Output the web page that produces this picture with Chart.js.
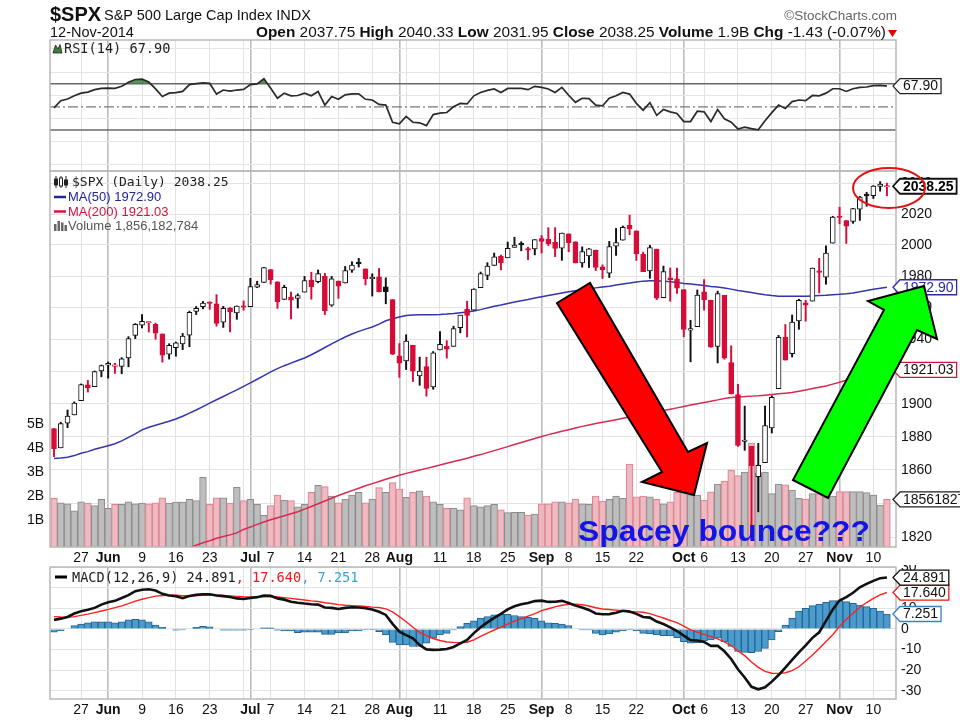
<!DOCTYPE html>
<html><head><meta charset="utf-8">
<script src="https://cdn.jsdelivr.net/npm/chart.js@4.4.1/dist/chart.umd.min.js"></script>
<style>
html,body{margin:0;padding:0;background:#fff;}
#wrap{position:relative;width:960px;height:720px;overflow:hidden;background:#fff;}
canvas{position:absolute;left:0;}
#ov{position:absolute;left:0;top:0;}
</style></head><body>
<div id="wrap">
<canvas id="cRsi" width="960" height="135" style="top:38px"></canvas>
<canvas id="cPx" width="960" height="397" style="top:169px"></canvas>
<canvas id="cMacd" width="960" height="155" style="top:565px"></canvas>
<svg id="ov" width="960" height="720" xmlns="http://www.w3.org/2000/svg">
 <g font-family="'Liberation Sans', Arial, sans-serif" fill="#111">
  <text x="50" y="21" font-size="20" font-weight="bold">$SPX</text>
  <text x="104" y="20" font-size="14.5">S&amp;P 500 Large Cap Index INDX</text>
  <text x="897" y="20" font-size="13.5" fill="#666" text-anchor="end">©StockCharts.com</text>
  <text x="50" y="37" font-size="14.5">12-Nov-2014</text>
  <text x="256" y="37" font-size="14.5" textLength="630" lengthAdjust="spacingAndGlyphs"><tspan font-weight="bold">Open</tspan> 2037.75 <tspan font-weight="bold">High</tspan> 2040.33 <tspan font-weight="bold">Low</tspan> 2031.95 <tspan font-weight="bold">Close</tspan> 2038.25 <tspan font-weight="bold">Volume</tspan> 1.9B <tspan font-weight="bold">Chg</tspan> -1.43 (-0.07%)</text>
  <path d="M888,30 h9 l-4.5,7 z" fill="#d00"/>
 </g>
 <!-- RSI legend -->
 <path d="M53,53 L55.5,45 L58,49 L60,44.5 L62,53 Z" fill="#3d7d3d" stroke="#222" stroke-width="0.8"/>
 <text x="64" y="53" font-family="'DejaVu Sans Mono', monospace" font-size="13.6" fill="#222">RSI(14) 67.90</text>
 <!-- price legends -->
 <g stroke="#222" stroke-width="1">
  <line x1="56" y1="176" x2="56" y2="188"/><rect x="54.5" y="179" width="3" height="6" fill="#222"/>
  <line x1="61" y1="176" x2="61" y2="188"/><rect x="59.5" y="178" width="3" height="8" fill="#fff"/>
  <line x1="66" y1="176" x2="66" y2="188"/><rect x="64.5" y="180" width="3" height="5" fill="#222"/>
 </g>
 <text x="72" y="186" font-family="'DejaVu Sans Mono', monospace" font-size="13" fill="#222">$SPX (Daily) 2038.25</text>
 <line x1="54" y1="197" x2="66" y2="197" stroke="#23239c" stroke-width="2.5"/>
 <text x="68" y="201" font-family="'Liberation Sans', Arial, sans-serif" font-size="13" fill="#23239c">MA(50) 1972.90</text>
 <line x1="54" y1="211.5" x2="66" y2="211.5" stroke="#d3143c" stroke-width="2.5"/>
 <text x="68" y="216" font-family="'Liberation Sans', Arial, sans-serif" font-size="13" fill="#d3143c">MA(200) 1921.03</text>
 <g fill="#666"><rect x="54" y="224" width="2.5" height="7"/><rect x="57.5" y="221" width="2.5" height="10"/><rect x="61" y="222.5" width="2.5" height="8.5"/><rect x="64.5" y="225" width="2.5" height="6"/></g>
 <text x="68" y="230" font-family="'Liberation Sans', Arial, sans-serif" font-size="13" fill="#555">Volume 1,856,182,784</text>
 <!-- MACD legend -->
 <line x1="55" y1="577" x2="67" y2="577" stroke="#000" stroke-width="3"/>
 <text x="72" y="582" font-family="'DejaVu Sans Mono', monospace" font-size="13.6" fill="#222">MACD(12,26,9) 24.891<tspan fill="#f01818">, 17.640</tspan><tspan fill="#3aa3d6">, 7.251</tspan></text>
 <!-- annotations -->
 <polygon points="557,303 590,283 688,452 707,443 694,495 642,482 662,472" fill="#ff0000" stroke="#000" stroke-width="2" stroke-linejoin="miter"/>
 <polygon points="793,480 828,498 917,330 937,339 924,286 868,301 884,310" fill="#00ff00" stroke="#000" stroke-width="2" stroke-linejoin="miter"/>
 <ellipse cx="889" cy="188" rx="36" ry="20" fill="none" stroke="#e81010" stroke-width="2"/>
 <text x="578" y="541" font-family="'Liberation Sans', Arial, sans-serif" font-size="29" font-weight="bold" fill="#1414e6" textLength="292" lengthAdjust="spacingAndGlyphs">Spacey bounce???</text>
</svg>
</div>
<script>
// ---------- DATA (124 trading days, 20-May-2014 .. 12-Nov-2014) ----------
const closeBefore = 1885.08;
const opens = [1884.9,1873.3,1888.2,1893.3,1902,1911.8,1910.6,1920.3,1923.9,1923.1,
1923.1,1928.5,1942.4,1948.9,1950.3,1949.4,1943.4,1930.8,1934.8,1937.2,
1942.7,1957.5,1960.5,1962.9,1962.3,1950.8,1959.9,1956.6,1960.8,1960.5,
1973,1975.9,1984.2,1976.4,1965.1,1966.7,1965.8,1969.8,1977.4,1976.4,
1979.8,1961.5,1976.9,1975.6,1983.8,1988.1,1984.6,1978.3,1979.5,1973.2,
1965.1,1929.8,1926.6,1936.3,1917.3,1923,1910.4,1933.4,1935.7,1935.6,
1947.4,1958.9,1958.4,1972.7,1980.5,1986.8,1992.6,1991.7,1998.4,2000.3,
1997.4,1997.4,2004.1,2003.6,2001.7,1998,2007.2,2002.1,1988.4,1992.9,
1996.7,1986,1981.9,1999.3,2003.1,2012.7,2009.1,1994,1983.3,1997.3,
1966.2,1978.96,1978.2,1971.4,1945.8,1948,1970,1964.7,1935.6,1967.7,
1925.6,1905.7,1877.1,1874.2,1855.9,1864.4,1885.3,1909.4,1941.3,1931,
1951.6,1963,1964.1,1983.3,1979.4,2001.2,2018.2,2015.8,2015.3,2023.3,
2032.4,2032,2038.2,2037.75];
const highs = [1885,1888.8,1896.3,1901.3,1912.3,1914.5,1920.3,1924,1925.9,1925.1,
1928.6,1941.7,1949.9,1955.6,1950.9,1950.2,1943.4,1937.3,1938.4,1943.7,
1957.7,1960.7,1963.9,1963.7,1968.2,1960.8,1959.9,1961,1964.2,1978.6,
1976.7,1985.6,1984.2,1976.4,1974.2,1969.8,1968.7,1979.8,1982.5,1983.9,
1981.8,1979.9,1976.9,1986.2,1989.2,1991.4,1984.6,1981.5,1984.9,1978.9,
1965.1,1937.4,1942.9,1936.3,1928.9,1928.9,1932.4,1944.9,1939.2,1948.3,
1955.2,1964,1972,1982.6,1988.6,1994.8,1993.5,2001.9,2005,2002.1,
1998.6,2003.4,2006.1,2011.2,2011.2,2007.7,2007.2,2002.1,1998.8,1997.7,
1996.7,1987.2,2002.3,2010.7,2012.3,2019.3,2009.1,1995.4,1999.8,1997.3,
1986.4,1985.2,1985.2,1971.4,1952,1971.2,1977.8,1964.7,1970.4,1967.7,
1936,1912.1,1898.7,1874.2,1876,1898.7,1905,1942.5,1949.3,1955.3,
1965.3,1964.6,1985.2,1991.4,1999.4,2018.6,2024.5,2016,2023.8,2031.6,
2034.3,2038.7,2041.3,2040.33];
const lows = [1868,1873.3,1885.5,1893.3,1902,1907.3,1910.6,1916.7,1915.9,1918.8,
1918.6,1922.9,1940.5,1947.2,1944.6,1940.1,1925.8,1927.7,1929.5,1933.6,
1935.4,1955.6,1959.2,1958.9,1948.3,1947.5,1944.7,1952.6,1958.3,1960.5,
1972.6,1975.9,1974.9,1959.5,1965.1,1952.9,1959.7,1969.8,1965.3,1975.7,
1955.6,1960.8,1965.8,1975.6,1982.4,1985.8,1974.4,1967.3,1969.9,1962.4,
1930.5,1916.4,1921.2,1913.8,1911.5,1904.8,1909,1933.4,1928.3,1935.6,
1944.1,1941.5,1958.4,1972.7,1977.7,1986.8,1984,1991.7,1998.4,1996.2,
1990.5,1993.6,1994.8,1999.6,1992.5,1990.1,1995.6,1988.4,1985.7,1985.5,
1983.5,1978.5,1979.1,1993.3,2003.1,2006.6,1990,1982.8,1978.6,1965,
1966.2,1964,1969,1941.7,1926,1948,1958.4,1935.1,1925.3,1927.6,
1906.1,1874.1,1871.8,1820.7,1835,1864.4,1882.3,1909.4,1927.1,1929,
1946.3,1951.4,1964.1,1969.3,1974.8,2001.2,2013.7,2001,2014,2015.9,
2025.1,2030.2,2035,2031.95];
const closes = [1872.8,1888,1892.5,1900.5,1911.9,1909.8,1920,1923.6,1925,1924.2,
1927.9,1940.5,1949.4,1951.3,1950.8,1943.9,1930.1,1936.2,1937.8,1942,
1957,1959.5,1962.9,1962.6,1950,1959.5,1957.2,1961,1960.2,1973.3,
1974.6,1985.4,1977.7,1963.7,1972.8,1964.7,1967.6,1977.1,1973.3,1981.6,
1958.1,1978.2,1973.6,1983.5,1987,1988,1978.3,1978.9,1969.9,1970.1,
1930.7,1925.2,1939,1920.2,1920.2,1909.6,1931.6,1936.9,1933.8,1946.7,
1955.2,1955.1,1971.7,1981.6,1986.5,1992.4,1988.4,1997.9,2000,2000.1,
1996.7,2003.4,2002.3,2000.7,1997.7,2007.7,2001.5,1988.4,1995.7,1997.5,
1985.5,1984.1,1999,2001.6,2011.4,2010.4,1994.3,1982.8,1998.3,1966,
1982.9,1977.8,1972.3,1946.2,1946.2,1967.9,1964.8,1935.1,1968.9,1928.2,
1906.1,1874.7,1877.7,1862.5,1862.8,1886.8,1904,1941.3,1927.1,1950.8,
1964.6,1961.6,1985.1,1982.3,1994.7,2018.1,2017.8,2012.1,2023.6,2031.2,
2031.9,2038.3,2039.7,2038.25];
const volumesB = [1.90,1.72,1.67,1.38,1.76,1.70,1.60,1.86,1.49,1.65,
1.65,1.76,1.67,1.70,1.67,1.72,1.92,1.70,1.75,1.75,
1.86,1.81,2.78,1.65,1.92,1.92,1.70,2.36,1.81,1.86,
1.65,1.19,1.60,2.04,1.83,1.81,1.55,1.65,2.15,2.44,
2.39,2.00,1.72,1.87,2.04,2.15,1.72,1.87,2.35,2.15,
2.56,2.29,1.94,2.15,2.22,2.00,1.76,1.65,1.49,1.49,
1.42,1.92,1.60,1.55,1.60,1.65,1.42,1.31,1.32,1.32,
1.21,1.25,1.67,1.67,1.76,1.76,1.72,1.87,1.67,1.65,
2.00,1.79,1.86,2.00,1.90,3.33,1.96,2.00,1.96,1.86,
1.67,1.76,2.15,2.14,2.06,2.04,1.83,2.17,2.50,2.62,
3.08,2.85,3.00,4.20,2.95,3.00,2.10,2.50,2.46,2.25,
1.90,1.87,2.10,2.10,1.97,2.00,2.18,2.18,2.18,2.18,
2.14,2.04,1.62,1.856182784];
const ma50 = [1866.9,1867.2,1867.6,1868.6,1870,1871,1872.4,1873.5,1874.5,1875.8,
1877.5,1879.6,1881.7,1884.2,1885.8,1887,1888.2,1889.4,1890.8,1892.5,
1894.4,1896.3,1898.4,1900.5,1902.6,1904.6,1906.6,1908.6,1910.8,1913,
1915.2,1917.4,1919.8,1921.8,1923.6,1925.2,1926.8,1928.4,1930.4,1932.6,
1934.9,1937.2,1939.4,1941.5,1943.4,1945,1946.4,1947.8,1949.6,1951.7,
1953,1954,1955,1955.3,1955.4,1955.4,1955.5,1955.6,1955.9,1956.3,
1956.8,1957.2,1957.9,1958.7,1959.8,1960.8,1961.6,1962.6,1963.5,1964.3,
1965.1,1966,1966.8,1967.6,1968.4,1969.2,1970,1970.7,1971.2,1971.9,
1972.5,1973.1,1973.6,1974.3,1975,1975.6,1976.3,1976.8,1977.1,1977.1,
1976.8,1976.4,1976,1975.3,1974.9,1974.5,1974,1973.4,1973,1972.4,
1971.7,1970.9,1970.2,1969.5,1968.8,1968.1,1967.6,1967.2,1967.1,1967.1,
1967.1,1967.2,1967.4,1967.6,1967.8,1968.1,1968.4,1968.8,1969.3,1970,
1970.8,1971.6,1972.3,1972.9];
const ma200 = [1788.2,1789.5,1790.8,1792,1793.3,1794.6,1795.9,1797.2,1798.5,1799.7,
1801,1802.3,1803.6,1804.9,1806.2,1807.4,1808.7,1810,1811.3,1812.6,
1813.9,1815.3,1816.8,1818,1819.4,1820.5,1821.4,1822.6,1824.6,1826,
1827.6,1829,1830.3,1831.5,1832.7,1833.9,1835.1,1836.6,1838.2,1839.8,
1841.4,1843.1,1844.7,1846.2,1847.6,1849,1850.5,1851.8,1853.1,1854.4,
1855.6,1856.8,1857.9,1858.9,1859.9,1860.9,1861.9,1862.9,1864,1865,
1866,1867,1868.2,1869.2,1870.4,1871.6,1872.8,1874,1875.3,1876.5,
1877.7,1878.9,1880.1,1881.3,1882.3,1883.3,1884.3,1885.3,1886.3,1887.2,
1888,1888.8,1889.6,1890.4,1891.2,1892,1892.8,1893.6,1894.4,1895.2,
1896,1896.8,1897.6,1898.4,1899.3,1900.1,1900.9,1901.7,1902.5,1903.4,
1904,1904.3,1904.5,1904.8,1905,1905.4,1905.8,1906.2,1906.6,1907,
1907.8,1908.6,1909.5,1910.3,1911,1912.2,1913.4,1914.6,1915.8,1917,
1918.2,1919.3,1920.2,1921.03];
const rsi14 = [49.1,55.3,56.8,59.5,61.8,62.7,64.8,65.9,66.2,65.9,
67.7,71.2,73.6,73.9,71.4,65.5,58.9,61.8,62.3,63.3,
69.2,70,70.6,70.2,61,64.5,63.5,64.5,65,69.2,
69.8,74.2,66,57.4,61.8,59.5,59.8,61.8,59.5,63.3,
51.5,58.9,56.5,60.3,61.2,61.2,56.5,55.9,52.1,51.5,
36.7,35.3,41.8,36.7,36.2,33.8,43.3,44.5,45.1,50,
52.9,52.5,59.5,62.4,64.2,65.5,62.4,65.9,65.9,65.9,
64.8,67.7,66.8,65.4,62.4,66.8,60,53.9,57.4,57.1,
51.5,50.9,57.4,59.5,62.4,61,53,47.1,53.6,42.7,
47.7,45.7,44.2,37.3,37.3,46.2,45.7,37.3,47.7,39.7,
36.7,30.9,32.4,31.2,30.2,38,45,51.5,48.6,54.5,
55.9,55.3,59.8,59.5,61.8,65.6,65.6,63.3,65.6,66.8,
67.1,68.3,68.6,67.9];
const macdLine = [4.4,5.0,5.8,7.5,8.6,9.3,10.2,11.8,12.9,13.6,
15.0,16.4,18.3,19.0,19.2,18.6,17.0,16.2,15.8,14.9,
16.0,16.5,16.8,16.8,16.2,15.9,15.5,14.8,14.5,15.0,
15.4,16.2,16.1,14.8,14.2,13.2,12.7,12.3,12.0,11.8,
10.4,10.2,9.7,10.2,10.5,10.4,10.0,9.4,8.3,6.8,
2.5,-1.3,-3.0,-4.5,-7.8,-9.9,-10.1,-10.0,-9.7,-8.7,
-7.0,-5.3,-2.0,0.8,3.2,5.4,7.3,9.5,11.0,12.0,
12.6,13.5,13.7,13.1,13.2,13.6,12.6,11.3,10.4,9.2,
7.5,7.1,7.2,7.8,8.8,8.4,7.3,5.8,5.5,3.6,
2.4,0.8,-1.0,-3.2,-5.4,-5.6,-6.3,-8.2,-8.1,-10.8,
-14.5,-19.5,-23.5,-28.0,-29.2,-28.2,-25.5,-22.3,-18.7,-15.0,
-11.3,-7.9,-4.3,-1.6,3.9,9.4,13.8,15.4,17.5,20.2,
21.8,23.3,24.6,24.891];
const signalLine = [6.0,5.8,5.7,6.0,6.6,7.2,7.9,8.7,9.5,10.3,
11.2,12.3,13.5,14.4,15.2,15.9,16.2,16.3,16.3,16.1,
16.1,16.2,16.3,16.3,16.3,16.2,16.0,15.8,15.6,15.5,
15.5,15.6,15.7,15.5,15.2,14.8,14.4,14.0,13.6,13.3,
12.7,12.3,11.8,11.5,11.3,11.1,10.9,10.6,10.4,9.7,
8.3,6.0,3.5,0.8,-1.6,-3.2,-4.6,-5.6,-6.3,-6.5,
-6.6,-6.4,-5.3,-3.6,-2.0,-0.5,0.9,2.3,3.8,5.0,
6.2,7.4,8.9,9.8,10.7,11.5,11.9,12.0,11.7,11.1,
10.3,9.7,9.4,9.1,8.8,8.5,8.3,8.1,7.4,6.3,
5.3,4.1,3.1,1.4,-0.4,-1.5,-2.6,-3.7,-4.8,-6.2,
-8.0,-10.6,-12.9,-16.0,-18.6,-20.5,-21.4,-21.5,-21.2,-20.2,
-18.3,-15.5,-12.6,-9.4,-6.1,-2.8,1.2,4.7,7.6,10.5,
12.8,14.8,16.5,17.64];
const histVals = [-1.6,-0.8,0,1.6,2.4,3.0,3.5,3.5,3.5,3.0,
3.5,4.4,4.7,4.4,3.5,1.9,0.8,0,-0.6,-0.5,
0,0.8,1.3,1.0,0,-0.6,-0.6,-0.6,-0.6,-0.3,
0,0.6,0.6,-0.6,-1.0,-1.0,-1.8,-1.6,-1.6,-1.6,
-2.6,-2.6,-1.9,-1.9,-1.0,-1.0,-0.3,-0.3,-1.3,-2.9,
-6.5,-7.7,-7.7,-8.5,-8.5,-6.9,-4.5,-2.9,-2.1,-0.5,
1.1,2.7,4.0,5.2,6.0,6.8,7.1,7.1,6.5,6.0,
5.6,5.2,3.9,3.0,2.7,2.4,1.6,0,-0.5,-0.5,
-2.1,-2.9,-2.4,-1.6,-1.0,-0.5,-1.0,-2.1,-2.4,-2.9,
-3.2,-3.4,-4.2,-6.1,-6.9,-6.6,-5.8,-5.3,-4.5,-6.1,
-8.5,-10.9,-11.3,-11.5,-10.9,-9.4,-5.3,-1.3,1.9,5.2,
8.7,10.0,11.3,12.1,12.9,13.7,13.7,13.2,12.4,11.6,
10.8,10.0,8.7,7.251];
// x-axis ticks: trading-day index of each gridline, its label, and month starts
const tickIdx = [4,8,13,18,23,28,29,32,37,42,47,51,52,57,62,67,72,76,81,86,91,93,96,101,106,111,116,121];
const tickLbl = ['27','Jun','9','16','23','','Jul','7','14','21','28','Aug','','11','18','25','Sep','8','15','22','','Oct','6','13','20','27','Nov','10'];
const monthTicks = [8,29,51,72,93,116];
const priceTicks = [1820,1840,1860,1880,1900,1920,1940,1960,1980,2000,2020,2040];
const volTicks = [1,2,3,4,5];
const rsiTicks = [0,10,20,30,40,50,60,70,80,90,100];
const rsiLabels = [10,30,50,70,90];
const rsiLevels = [70,50,30];
const macdTicks = [-30,-20,-10,0,10,20,30];

// ---------- helpers ----------
const FONT = '"Liberation Sans", Arial, sans-serif';
const X_MIN = -0.59, X_MAX = 124.34;
const N = closes.length;
const last = N - 1;
const isUp = closes.map((c,i)=> c >= (i ? closes[i-1] : closeBefore));
const isHollow = closes.map((c,i)=> c >= opens[i]);
const RED = 'rgb(214,12,56)', BLK = '#111';
const pts = arr => arr.map((v,i)=>({x:i, y:v}));
const noPadY = s => { s.paddingTop = 0; s.paddingBottom = 0; };

function xScale(showLabels, h){
  return {
    type:'linear', min:X_MIN, max:X_MAX, bounds:'data', offset:false,
    afterBuildTicks: s => { s.ticks = tickIdx.map(v=>({value:v})); },
    afterFit: s => { s.height = h; s.paddingLeft = 0; s.paddingRight = 0; },
    grid:{ drawTicks:false, offset:false,
      color: c => (c.tick && monthTicks.includes(c.tick.value)) ? '#bdbdbd' : '#e3e3e3',
      lineWidth: c => (c.tick && monthTicks.includes(c.tick.value)) ? 1.6 : 1 },
    border:{display:false},
    ticks:{ display:showLabels, autoSkip:false, maxRotation:0, minRotation:0, padding:3, color:'#111',
      font: c => ({family:FONT, size:14, weight:(c.tick && monthTicks.includes(c.tick.value)) ? 'bold' : 'normal'}),
      callback: v => { const k = tickIdx.indexOf(v); return k < 0 ? '' : tickLbl[k]; } }
  };
}
const tagStore = {};
const panelPlugin = {
  id:'panel',
  afterDraw(chart){
    const {ctx, chartArea:a} = chart;
    ctx.save();
    ctx.strokeStyle = '#b9b9b9'; ctx.lineWidth = 1.5;
    ctx.strokeRect(a.left, a.top, a.right-a.left, a.bottom-a.top);
    (tagStore[chart.canvas.id] || []).forEach(t => {
      const y = chart.scales[t.axis].getPixelForValue(t.value);
      ctx.font = (t.bold ? 'bold ' : '') + '14px ' + FONT;
      const w = ctx.measureText(t.text).width + 6;
      const x0 = a.right - 3, h = 7.5;
      ctx.beginPath();
      ctx.moveTo(x0, y); ctx.lineTo(x0+7, y-h); ctx.lineTo(x0+7+w, y-h);
      ctx.lineTo(x0+7+w, y+h); ctx.lineTo(x0+7, y+h); ctx.closePath();
      ctx.fillStyle = '#fff'; ctx.fill();
      ctx.lineWidth = t.bold ? 1.8 : 1.3; ctx.strokeStyle = t.border; ctx.stroke();
      ctx.fillStyle = t.color; ctx.textBaseline = 'middle'; ctx.textAlign = 'left';
      ctx.fillText(t.text, x0+10, y+0.5);
    });
    ctx.restore();
  }
};
const baseOpts = {responsive:false, animation:false, events:[], devicePixelRatio:1,
  plugins:{legend:{display:false}, tooltip:{enabled:false}}};

// ---------- RSI panel ----------
tagStore.cRsi = [{axis:'y', value:rsi14[last], text:rsi14[last].toFixed(2), border:'#222', color:'#111'}];
new Chart(document.getElementById('cRsi'), {
  type:'line',
  data:{datasets:[
    {data:pts(rsi14), borderColor:'#2a2a2a', borderWidth:1.7, pointRadius:0,
     fill:{target:{value:70}, above:'rgba(62,128,62,0.85)', below:'rgba(0,0,0,0)'}, order:1},
    ...rsiLevels.map(v => ({data:[{x:X_MIN,y:v},{x:X_MAX,y:v}], borderColor: v===50 ? '#7a7a7a' : '#6a6a6a',
      borderWidth: v===50 ? 1.2 : 1.5, borderDash: v===50 ? [10,3,2,3] : [], pointRadius:0, fill:false, order:2}))
  ]},
  options:{...baseOpts, layout:{padding:{top:2, bottom:2, left:50, right:0}},
    scales:{
      x: xScale(false, 0),
      y:{type:'linear', position:'right', min:-5.4, max:107.7, bounds:'data',
        afterBuildTicks: s => { s.ticks = rsiTicks.map(v=>({value:v})); },
        afterFit: s => { s.width = 64; noPadY(s); },
        grid:{color:'#e6e6e6', drawTicks:false}, border:{display:false},
        ticks:{padding:5, color:'#111', font:{family:FONT, size:14},
          callback: v => rsiLabels.includes(v) ? String(v) : ''}}
    }},
  plugins:[panelPlugin]
});

// ---------- Price panel ----------
tagStore.cPx = [
  {axis:'y', value:ma50[last], text:ma50[last].toFixed(2), border:'#2a2aa8', color:'#2a2aa8'},
  {axis:'y', value:ma200[last], text:ma200[last].toFixed(2), border:'#d3143c', color:'#111'},
  {axis:'yv', value:volumesB[last], text:String(Math.round(volumesB[last]*1e9)), border:'#222', color:'#111'},
  {axis:'y', value:closes[last], text:closes[last].toFixed(2), border:'#111', color:'#000', bold:true}
];
const VOL_MIN = -0.125, VOL_MAX = 15.54;
new Chart(document.getElementById('cPx'), {
  type:'bar',
  data:{datasets:[
    {type:'bar', yAxisID:'yv', data:pts(volumesB), base:VOL_MIN,
     backgroundColor: volumesB.map((v,i)=> isUp[i] ? 'rgba(186,186,186,0.95)' : 'rgba(236,180,188,0.9)'),
     borderColor: volumesB.map((v,i)=> isUp[i] ? '#8c8c8c' : '#df8391'),
     borderWidth:1, barPercentage:1, categoryPercentage:1, order:10},
    {type:'line', yAxisID:'y', data:pts(ma200), borderColor:'#d82a50', borderWidth:1.5, pointRadius:0, order:6},
    {type:'line', yAxisID:'y', data:pts(ma50), borderColor:'#3434ac', borderWidth:1.5, pointRadius:0, order:5},
    {type:'bar', yAxisID:'y', data: lows.map((l,i)=>({x:i, y:[l, highs[i]]})),
     backgroundColor: lows.map((l,i)=> isUp[i] ? BLK : RED), borderWidth:0, barThickness:1.3, order:3},
    {type:'bar', yAxisID:'y', data: opens.map((o,i)=>({x:i, y:[o, closes[i]]})),
     backgroundColor: opens.map((o,i)=> isHollow[i] ? '#fff' : (isUp[i] ? BLK : RED)),
     borderColor: opens.map((o,i)=> isUp[i] ? BLK : RED),
     borderWidth:1, barThickness:5, minBarLength:1.5, borderSkipped:false, order:2}
  ]},
  options:{...baseOpts, layout:{padding:{top:2, bottom:0, left:0, right:0}},
    datasets:{bar:{grouped:false}},
    scales:{
      x: xScale(true, 19),
      y:{type:'logarithmic', position:'right', min:1814.3, max:2048.3, bounds:'data',
        afterBuildTicks: s => { s.ticks = priceTicks.map(v=>({value:v})); },
        afterFit: s => { s.width = 64; noPadY(s); },
        grid:{color:'#e3e3e3', drawTicks:false}, border:{display:false},
        ticks:{padding:5, color:'#111', font:{family:FONT, size:14}, callback: v => String(v)}},
      yv:{type:'linear', position:'left', min:VOL_MIN, max:VOL_MAX, bounds:'data',
        afterBuildTicks: s => { s.ticks = volTicks.map(v=>({value:v})); },
        afterFit: s => { s.width = 50; noPadY(s); },
        grid:{drawOnChartArea:false, drawTicks:false}, border:{display:false},
        ticks:{padding:6, color:'#111', font:{family:FONT, size:14}, callback: v => v + 'B'}}
    }},
  plugins:[panelPlugin]
});

// ---------- MACD panel ----------
tagStore.cMacd = [
  {axis:'y', value:histVals[last], text:histVals[last].toFixed(3), border:'#3d7fc0', color:'#111'},
  {axis:'y', value:signalLine[last], text:signalLine[last].toFixed(3), border:'#f01818', color:'#111'},
  {axis:'y', value:macdLine[last], text:macdLine[last].toFixed(3), border:'#111', color:'#111'}
];
new Chart(document.getElementById('cMacd'), {
  type:'bar',
  data:{datasets:[
    {type:'bar', data:pts(histVals), backgroundColor:'rgb(74,156,204)', borderColor:'rgb(38,98,146)',
     borderWidth:1, barPercentage:1, categoryPercentage:1, order:5},
    {type:'line', data:pts(signalLine), borderColor:'#ff2020', borderWidth:1.4, pointRadius:0, order:2},
    {type:'line', data:pts(macdLine), borderColor:'#111', borderWidth:2.6, pointRadius:0, order:1}
  ]},
  options:{...baseOpts, layout:{padding:{top:2, bottom:0, left:50, right:0}},
    datasets:{bar:{grouped:false}},
    scales:{
      x: xScale(true, 21),
      y:{type:'linear', position:'right', min:-33.9, max:30, bounds:'data',
        afterBuildTicks: s => { s.ticks = macdTicks.map(v=>({value:v})); },
        afterFit: s => { s.width = 64; noPadY(s); },
        grid:{color:'#e3e3e3', drawTicks:false}, border:{display:false},
        ticks:{padding:5, color:'#111', font:{family:FONT, size:14}, callback: v => String(v)}}
    }},
  plugins:[panelPlugin]
});
</script>
</body></html>
